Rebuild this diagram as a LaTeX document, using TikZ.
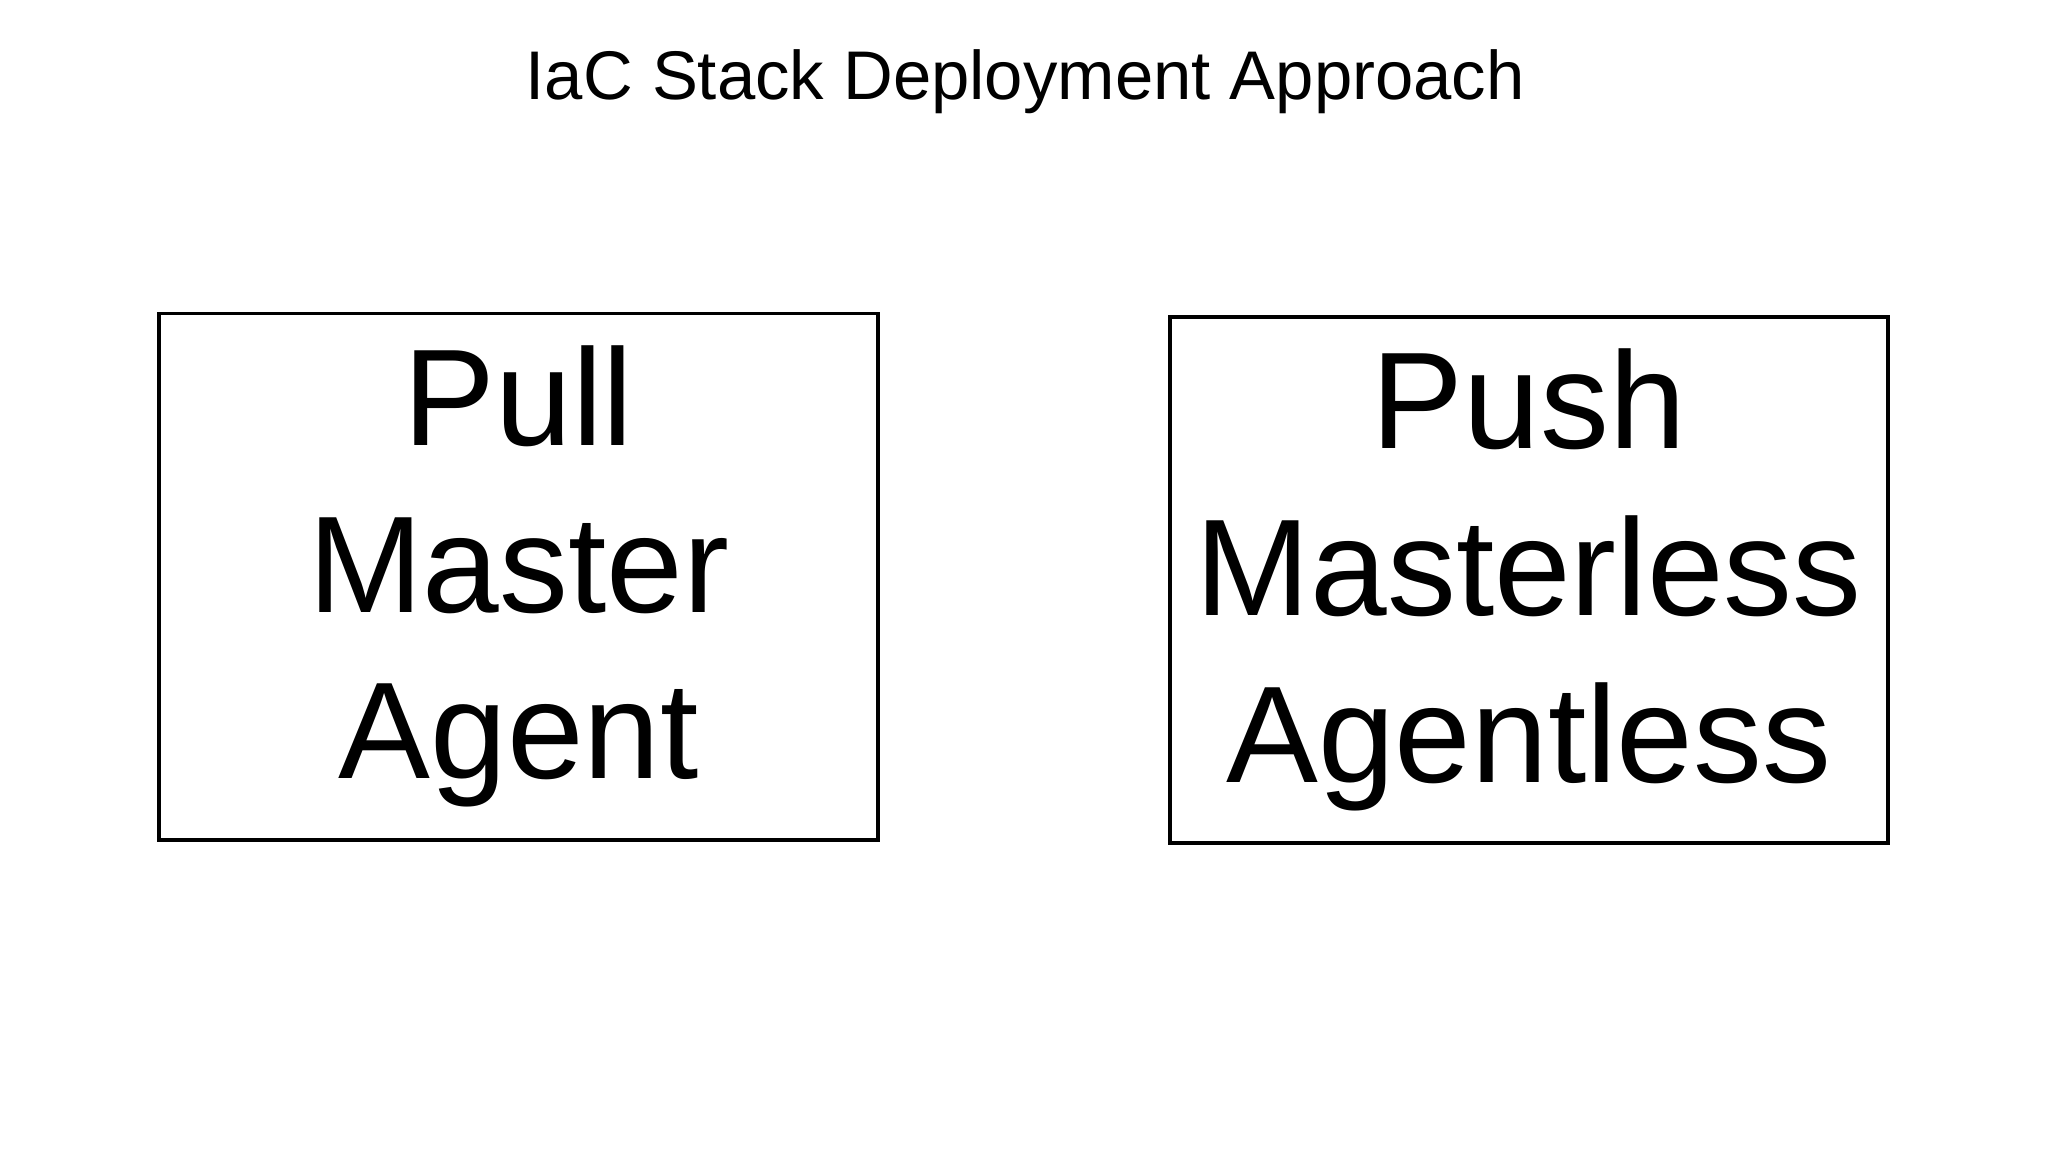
\documentclass[tikz,border=0pt]{standalone}
\usepackage{fontspec}
\setmainfont{Liberation Sans}
\begin{document}
\begin{tikzpicture}[x=1cm,y=1cm,
  box/.style={draw,line width=0.85pt,rectangle,minimum width=5.5cm,minimum height=4.03cm,align=center,inner sep=0pt,
    font=\fontsize{30pt}{36.3pt}\selectfont}]
\useasboundingbox (0,0) rectangle (15.68,-8.82);
\node[font=\fontsize{15pt}{18pt}\selectfont,anchor=base] (title) at (7.85,-0.76) {IaC Stack Deployment Approach};
\node[box] (pull) at (3.97,-4.415) {Pull\\Master\\Agent};
\node[box] (push) at (11.705,-4.44) {Push\\Masterless\\Agentless};
\end{tikzpicture}
\end{document}
